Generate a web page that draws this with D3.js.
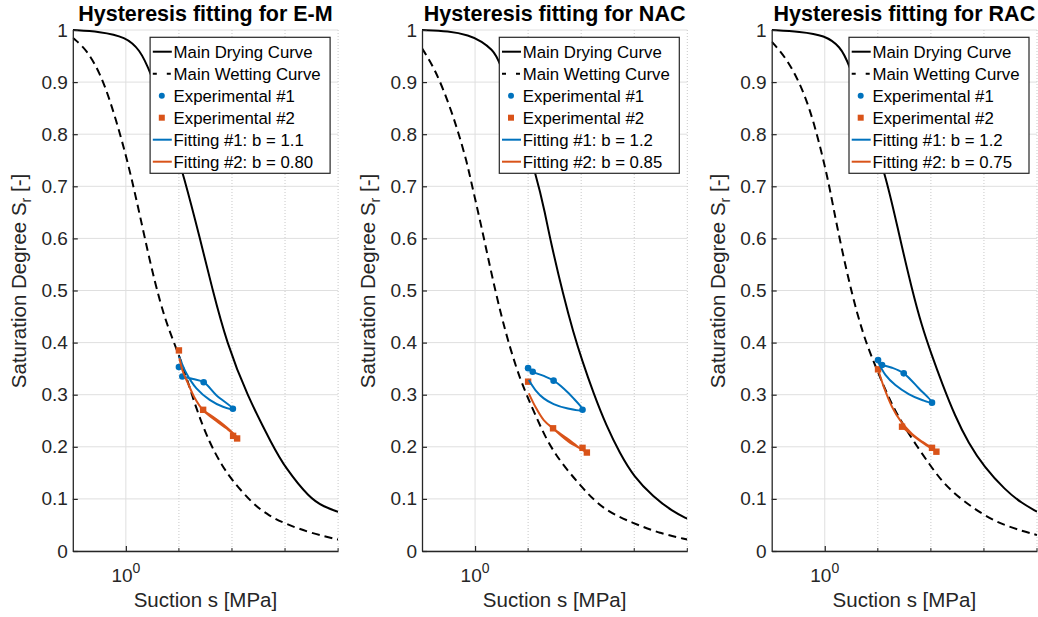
<!DOCTYPE html>
<html lang="en">
<head>
  <meta charset="UTF-8">
  <title>Hysteresis fitting</title>
  <style>
    body { margin: 0; background: #fff; }
    svg { display: block; font-family: "Liberation Sans", Arial, Helvetica, sans-serif; }
  </style>
</head>
<body>
  <div id="chart"></div>

  <script src="https://d3js.org/d3.v7.min.js"></script>
  <script>
    // panel names and fitted b values
    const materials = ['E-M', 'NAC', 'RAC'];
    const bFit1 = ['1.1', '1.2', '1.2'];
    const bFit2 = ['0.80', '0.85', '0.75'];

    // y ticks, x tick (log axis, MPa)
    const yTicks = [0, 0.1, 0.2, 0.3, 0.4, 0.5, 0.6, 0.7, 0.8, 0.9, 1];
    const xMajor = [1];
    const xMinor = [10, 100, 1000, 10000];

    // [suction MPa, Sr]
    const dryEM = [[0.1, 1.0], [0.32, 0.997], [1.0, 0.987], [1.83, 0.962], [2.82, 0.923], [5.83, 0.831], [13.0, 0.712],
      [24.9, 0.6], [43.3, 0.5], [79.5, 0.4], [189, 0.3], [601, 0.2], [977, 0.162], [2958, 0.1], [5433, 0.085],
      [10000, 0.075]];
    const wetEM = [[0.1, 0.985], [0.184, 0.962], [0.322, 0.918], [0.50, 0.866], [0.77, 0.802], [1.09, 0.745],
      [1.54, 0.680], [2.27, 0.601], [3.50, 0.516], [5.40, 0.447], [7.98, 0.401], [11.8, 0.357], [21.4, 0.271],
      [38.0, 0.207], [64.0, 0.165], [100, 0.136], [248, 0.090], [513, 0.067], [977, 0.053], [2904, 0.035], [10000, 0.022]];
    const exp1EM = [[10, 0.353], [11.6, 0.335], [29.3, 0.324], [104, 0.273]];
    const exp2EM = [[10, 0.385], [28.6, 0.271], [105, 0.221], [125, 0.216]];
    const fit1EM = [[10.1, 0.373], [13.8, 0.341], [21.4, 0.312], [38.0, 0.290], [67.6, 0.277], [104, 0.273],
      [50.8, 0.299], [29.3, 0.324], [18.5, 0.330], [11.6, 0.335]];
    const fit2EM = [[10.2, 0.370], [11.9, 0.344], [14.8, 0.322], [20.0, 0.293], [28.6, 0.270], [50.8, 0.2495],
      [78.3, 0.2355], [112, 0.2227], [125, 0.217], [105, 0.226], [58.9, 0.248], [35.3, 0.264], [28.6, 0.270]];

    const dryNAC = [[0.1, 1.0], [0.32, 0.998], [0.76, 0.990], [1.36, 0.978], [2.09, 0.962], [2.79, 0.946], [6.2, 0.84],
      [14.6, 0.718], [20.9, 0.648], [26.2, 0.597], [46.7, 0.488], [71.8, 0.418], [103, 0.367], [170, 0.303], [302, 0.239],
      [537, 0.1875], [977, 0.143], [2291, 0.104], [5370, 0.0755], [10000, 0.062]];
    const wetNAC = [[0.1, 0.965], [0.18, 0.923], [0.32, 0.859], [0.49, 0.802], [0.71, 0.744], [0.83, 0.712],
      [1.28, 0.629], [1.97, 0.539], [3.03, 0.456], [4.67, 0.386], [7.18, 0.328], [10.3, 0.290], [17.0, 0.239],
      [30.2, 0.1875], [100, 0.123], [263, 0.0787], [977, 0.053], [3020, 0.034], [10000, 0.022]];
    const exp1NAC = [[10, 0.351], [12.2, 0.344], [30.2, 0.327], [106, 0.271]];
    const exp2NAC = [[10, 0.325], [29.5, 0.2355], [106, 0.198], [128, 0.189]];
    const fit1NAC = [[10.3, 0.328], [13.7, 0.309], [19.7, 0.293], [30.3, 0.282], [53.8, 0.274], [106, 0.2706],
      [71.8, 0.293], [46.7, 0.312], [30.3, 0.327], [19.7, 0.336], [12.2, 0.344], [10, 0.350]];
    const fit2NAC = [[10.3, 0.3027], [13.7, 0.277], [19.7, 0.2514], [29.4, 0.2355], [53.8, 0.2163], [95.5, 0.197],
      [128, 0.189], [103, 0.195], [57.9, 0.2098], [29.4, 0.2355]];

    const dryRAC = [[0.1, 1.0], [0.34, 0.997], [1.01, 0.990], [1.95, 0.968], [2.79, 0.939], [6.4, 0.83], [14.9, 0.712],
      [24.8, 0.610], [44.2, 0.501], [68.2, 0.4305], [101, 0.3795], [162, 0.322], [288, 0.258], [513, 0.2067],
      [1000, 0.162], [2512, 0.117], [5212, 0.0915], [10000, 0.0755]];
    const wetRAC = [[0.1, 0.9776], [0.19, 0.9457], [0.34, 0.8977], [0.53, 0.8464], [0.76, 0.7889], [1.01, 0.7376],
      [1.26, 0.6929], [1.68, 0.6257], [2.60, 0.5355], [4.02, 0.4568], [6.20, 0.3954], [10.0, 0.3436], [15.8, 0.2956],
      [28.4, 0.2438], [100, 0.1618], [215, 0.1171], [1000, 0.0672], [2871, 0.0461], [10000, 0.0307]];
    const exp1RAC = [[10.1, 0.3666], [12.0, 0.357], [30.8, 0.341], [105, 0.2847]];
    const exp2RAC = [[10.1, 0.3487], [28.6, 0.2386], [105, 0.198], [127, 0.1906]];
    const fit1RAC = [[10.1, 0.3634], [13.9, 0.338], [21.4, 0.3186], [38.2, 0.3013], [68.2, 0.2898], [105, 0.2847],
      [59.0, 0.3123], [30.8, 0.341], [18.5, 0.3518], [12.0, 0.357]];
    const fit2RAC = [[10.1, 0.3487], [12.9, 0.3154], [18.5, 0.277], [26.6, 0.2501], [44.2, 0.2246], [68.2, 0.2098],
      [105, 0.198], [127, 0.1906], [91.0, 0.2002], [59.0, 0.213], [38.2, 0.2278], [28.6, 0.2386]];

    const panels = [
      { dry: dryEM, wet: wetEM, exp1: exp1EM, exp2: exp2EM, fit1: fit1EM, fit2: fit2EM },
      { dry: dryNAC, wet: wetNAC, exp1: exp1NAC, exp2: exp2NAC, fit1: fit1NAC, fit2: fit2NAC },
      { dry: dryRAC, wet: wetRAC, exp1: exp1RAC, exp2: exp2RAC, fit1: fit1RAC, fit2: fit2RAC }
    ];

    const W = 1038, H = 617;
    const lefts = [72.8, 422, 771.7], PW = 265.3;
    const plotTop = 30, plotBottom = 551;
    const ink = '#262626', blue = '#0072BD', orange = '#D95319';

    const svg = d3.select('#chart').append('svg').attr('width', W).attr('height', H);

    panels.forEach((p, i) => {
      const L = lefts[i], R = L + PW;
      const x = d3.scaleLog().domain([0.1, 10000]).range([L, R]);
      const y = d3.scaleLinear().domain([0, 1]).range([plotBottom, plotTop]);
      const g = svg.append('g');

      // grid
      g.selectAll('.hg').data(yTicks).enter().append('line')
        .attr('x1', L).attr('x2', R).attr('y1', d => y(d)).attr('y2', d => y(d))
        .attr('stroke', '#dfdfdf').attr('stroke-width', 1);
      g.selectAll('.vg').data(xMajor).enter().append('line')
        .attr('x1', d => x(d)).attr('x2', d => x(d)).attr('y1', plotTop).attr('y2', plotBottom)
        .attr('stroke', '#dfdfdf').attr('stroke-width', 1);
      g.selectAll('.vm').data(xMinor).enter().append('line')
        .attr('x1', d => x(d)).attr('x2', d => x(d)).attr('y1', plotTop).attr('y2', plotBottom)
        .attr('stroke', '#c8c8c8').attr('stroke-width', 1).attr('stroke-dasharray', '1,2');

      // clip
      const cid = 'clip' + i;
      svg.append('clipPath').attr('id', cid).append('rect')
        .attr('x', L).attr('y', plotTop - 2).attr('width', PW).attr('height', plotBottom - plotTop + 2);
      const plot = g.append('g').attr('clip-path', `url(#${cid})`);

      const smooth = d3.line().x(d => x(d[0])).y(d => y(d[1])).curve(d3.curveBasis);
      const loop = d3.line().x(d => x(d[0])).y(d => y(d[1])).curve(d3.curveCatmullRom.alpha(0.5));

      plot.append('path').attr('d', smooth(p.dry)).attr('fill', 'none').attr('stroke', '#000').attr('stroke-width', 2);
      plot.append('path').attr('d', smooth(p.wet)).attr('fill', 'none').attr('stroke', '#000').attr('stroke-width', 2)
        .attr('stroke-dasharray', '8,5');

      plot.selectAll('.e1').data(p.exp1).enter().append('circle')
        .attr('cx', d => x(d[0])).attr('cy', d => y(d[1])).attr('r', 3.3).attr('fill', blue);
      plot.selectAll('.e2').data(p.exp2).enter().append('rect')
        .attr('x', d => x(d[0]) - 3.2).attr('y', d => y(d[1]) - 3.2).attr('width', 6.4).attr('height', 6.4)
        .attr('fill', orange);

      plot.append('path').attr('d', loop(p.fit1)).attr('fill', 'none').attr('stroke', blue).attr('stroke-width', 2);
      plot.append('path').attr('d', loop(p.fit2)).attr('fill', 'none').attr('stroke', orange).attr('stroke-width', 2);

      // axes
      const ya = g.append('g').attr('transform', `translate(${L},0)`)
        .call(d3.axisLeft(y).tickValues(yTicks).tickSizeInner(-5).tickSizeOuter(0).tickPadding(5)
          .tickFormat(d => d === 0 ? '0' : d === 1 ? '1' : d3.format('.1f')(d)));
      const xa = g.append('g').attr('transform', `translate(0,${plotBottom})`)
        .call(d3.axisBottom(x).tickValues(xMajor).tickSizeInner(-5).tickSizeOuter(0).tickFormat(() => ''));
      [ya, xa].forEach(a => {
        a.attr('font-family', null).attr('font-size', 19);
        a.select('.domain').attr('stroke', ink).attr('stroke-width', 1.3);
        a.selectAll('.tick line').attr('stroke', ink).attr('stroke-width', 1.2);
        a.selectAll('.tick text').attr('fill', ink);
      });
      xa.selectAll('.minor').data(xMinor).enter().append('line')
        .attr('x1', d => x(d)).attr('x2', d => x(d)).attr('y1', 0).attr('y2', -3)
        .attr('stroke', ink).attr('stroke-width', 1);

      xMajor.forEach(v => {
        const t = g.append('text').attr('x', x(v)).attr('y', 581.5).attr('text-anchor', 'middle')
          .attr('font-size', 19).attr('fill', ink);
        t.append('tspan').text('10');
        t.append('tspan').attr('dy', -8.5).attr('font-size', 14).text(Math.round(Math.log10(v)));
      });

      // labels
      g.append('text').attr('x', (L + R) / 2).attr('y', 21).attr('text-anchor', 'middle')
        .attr('font-size', 21.5).attr('font-weight', 'bold').attr('fill', '#000')
        .text('Hysteresis fitting for ' + materials[i]);
      g.append('text').attr('x', (L + R) / 2).attr('y', 607).attr('text-anchor', 'middle')
        .attr('font-size', 20.5).attr('fill', ink).text('Suction s [MPa]');
      const yl = g.append('text').attr('transform', `translate(${L - 47},281) rotate(-90)`)
        .attr('text-anchor', 'middle').attr('font-size', 20.5).attr('fill', ink);
      yl.append('tspan').text('Saturation Degree S');
      yl.append('tspan').attr('dy', 5).attr('font-size', 14).text('r');
      yl.append('tspan').attr('dy', -5).text(' [-]');

      // legend
      const lx = R - 188, ly = 37.3, rowH = 22;
      const lg = g.append('g');
      lg.append('rect').attr('x', lx).attr('y', ly).attr('width', 180).attr('height', 136)
        .attr('fill', '#fff').attr('stroke', ink).attr('stroke-width', 1.2);
      const items = [
        { label: 'Main Drying Curve', kind: 'line', color: '#000' },
        { label: 'Main Wetting Curve', kind: 'dash', color: '#000' },
        { label: 'Experimental #1', kind: 'circle', color: blue },
        { label: 'Experimental #2', kind: 'square', color: orange },
        { label: 'Fitting #1: b = ' + bFit1[i], kind: 'line', color: blue },
        { label: 'Fitting #2: b = ' + bFit2[i], kind: 'line', color: orange }
      ];
      items.forEach((it, k) => {
        const cy = ly + 14.4 + k * rowH;
        if (it.kind === 'line' || it.kind === 'dash') {
          const ln = lg.append('line').attr('x1', lx + 2.7).attr('x2', lx + 21.7).attr('y1', cy).attr('y2', cy)
            .attr('stroke', it.color).attr('stroke-width', 2);
          if (it.kind === 'dash') ln.attr('stroke-dasharray', '4,10');
        } else if (it.kind === 'circle') {
          lg.append('circle').attr('cx', lx + 11.7).attr('cy', cy).attr('r', 3).attr('fill', it.color);
        } else {
          lg.append('rect').attr('x', lx + 8.7).attr('y', cy - 3).attr('width', 6).attr('height', 6).attr('fill', it.color);
        }
        lg.append('text').attr('x', lx + 23.5).attr('y', cy + 6).attr('font-size', 16.8).attr('fill', '#000')
          .text(it.label);
      });
    });
  </script>
</body>
</html>
